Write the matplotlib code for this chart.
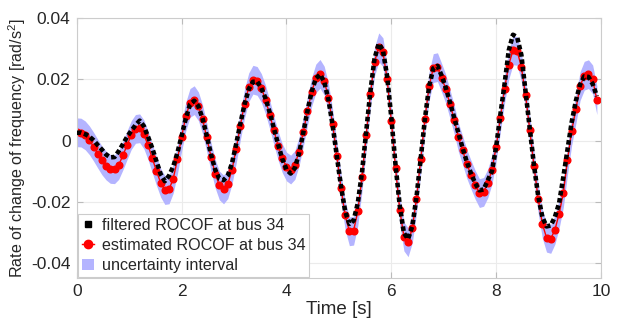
import numpy as np
import matplotlib
matplotlib.use("Agg")
import matplotlib.pyplot as plt
from matplotlib.patches import Patch
from matplotlib.lines import Line2D

plt.rcParams['font.family'] = ['Liberation Sans', 'DejaVu Sans']
plt.rcParams['mathtext.fontset'] = 'custom'
plt.rcParams['mathtext.rm'] = 'Liberation Sans'
plt.rcParams['mathtext.it'] = 'Liberation Sans'

dt = 0.08
estimated = [
    0.0027, 0.0026, 0.0017, 0.0001, -0.0020, -0.0043, -0.0065, -0.0082, -0.0093, -0.0094,
    -0.0080, -0.0049, -0.0015, 0.0018, 0.0038, 0.0040, 0.0020, -0.0016, -0.0058, -0.0100,
    -0.0138, -0.0162, -0.0160, -0.0125, -0.0062, 0.0012, 0.0079, 0.0123, 0.0132, 0.0112,
    0.0069, 0.0010, -0.0053, -0.0108, -0.0147, -0.0160, -0.0143, -0.0096, -0.0028, 0.0049,
    0.0121, 0.0174, 0.0199, 0.0195, 0.0172, 0.0134, 0.0085, 0.0033, -0.0017, -0.0058,
    -0.0085, -0.0095, -0.0080, -0.0036, 0.0027, 0.0096, 0.0159, 0.0203, 0.0218, 0.0196,
    0.0140, 0.0055, -0.0050, -0.0155, -0.0245, -0.0297, -0.0295, -0.0232, -0.0120, 0.0018,
    0.0152, 0.0258, 0.0305, 0.0289, 0.0201, 0.0065, -0.0090, -0.0226, -0.0314, -0.0333,
    -0.0287, -0.0190, -0.0062, 0.0070, 0.0177, 0.0237, 0.0240, 0.0205, 0.0168, 0.0118,
    0.0068, 0.0010, -0.0032, -0.0077, -0.0112, -0.0145, -0.0172, -0.0168, -0.0140, -0.0095,
    -0.0020, 0.0075, 0.0170, 0.0248, 0.0295, 0.0293, 0.0240, 0.0149, 0.0035, -0.0082,
    -0.0190, -0.0272, -0.0318, -0.0322, -0.0292, -0.0240, -0.0172, -0.0064, 0.0032, 0.0103,
    0.0178, 0.0212, 0.0217, 0.0200, 0.0132,
]
filtered = [
    0.0025, 0.0026, 0.0021, 0.0013, 0.0001, -0.0015, -0.0030, -0.0046, -0.0055, -0.0054,
    -0.0035, -0.0012, 0.0012, 0.0032, 0.0050, 0.0065, 0.0047, 0.0012, -0.0025, -0.0068,
    -0.0110, -0.0133, -0.0115, -0.0085, -0.0040, 0.0015, 0.0072, 0.0118, 0.0130, 0.0112,
    0.0072, 0.0015, -0.0045, -0.0095, -0.0125, -0.0130, -0.0115, -0.0075, -0.0012, 0.0055,
    0.0118, 0.0168, 0.0192, 0.0193, 0.0172, 0.0138, 0.0092, 0.0040, -0.0012, -0.0060,
    -0.0095, -0.0108, -0.0090, -0.0042, 0.0025, 0.0096, 0.0160, 0.0203, 0.0216, 0.0192,
    0.0135, 0.0050, -0.0050, -0.0150, -0.0232, -0.0273, -0.0262, -0.0205, -0.0105, 0.0028,
    0.0160, 0.0268, 0.0317, 0.0295, 0.0210, 0.0075, -0.0080, -0.0212, -0.0303, -0.0322,
    -0.0280, -0.0185, -0.0060, 0.0070, 0.0176, 0.0236, 0.0244, 0.0212, 0.0172, 0.0124,
    0.0074, 0.0024, -0.0025, -0.0070, -0.0108, -0.0140, -0.0163, -0.0160, -0.0130, -0.0100,
    -0.0020, 0.0085, 0.0185, 0.0295, 0.0346, 0.0338, 0.0280, 0.0160, 0.0040, -0.0080,
    -0.0180, -0.0250, -0.0281, -0.0278, -0.0250, -0.0205, -0.0120, -0.0030, 0.0060, 0.0130,
    0.0183, 0.0210, 0.0208, 0.0185, 0.0145,
]
unc_halfwidth = 0.0047
x_ticks = [0, 2, 4, 6, 8, 10]
y_ticks = [-0.04, -0.02, 0, 0.02, 0.04]
y_ticklabels = ['-0.04', '-0.02', '0', '0.02', '0.04']

est = np.array(estimated)
filt = np.array(filtered)
t = np.arange(len(est)) * dt

fig = plt.figure(figsize=(6.19, 3.20), dpi=100)
ax = fig.add_axes([0.124, 0.131, 0.847, 0.812])

ax.fill_between(t, est - unc_halfwidth, est + unc_halfwidth,
                color='#b4b4ff', linewidth=0, zorder=1)
ax.plot(t, est, color='red', lw=1.0, marker='o', ms=4.8, mec='red', mfc='red', zorder=2)
ax.plot(t, filt, color='black', lw=3.3, linestyle=(0, (1, 0.6)),
        dash_capstyle='butt', zorder=3)

ax.set_xlim(0, 10)
ax.set_ylim(-0.045, 0.04)
ax.set_xticks(x_ticks)
ax.set_xticklabels([str(v) for v in x_ticks])
ax.set_yticks(y_ticks)
ax.set_yticklabels(y_ticklabels)
ax.grid(True, color='#ebebeb', lw=0.8)
ax.set_axisbelow(True)
for sp in ax.spines.values():
    sp.set_color('#cccccc')
    sp.set_linewidth(0.8)
ax.tick_params(direction='in', length=4, width=0.8, color='#bbbbbb',
               labelsize=12.5, labelcolor='#262626', top=True, right=True, pad=4.5)

ax.set_xlabel('Time [s]', fontsize=13.5, color='#262626', labelpad=1)
ax.set_ylabel('Rate of change of frequency [rad/s$^2$]', fontsize=11.6,
              color='#262626', labelpad=2)

handles = [
    Line2D([], [], color='black', marker='s', ms=4, linestyle='none'),
    Line2D([], [], color='red', lw=1.0, marker='o', ms=6),
    Patch(facecolor='#b4b4ff', edgecolor='none'),
]
labels = ['filtered ROCOF at bus 34', 'estimated ROCOF at bus 34', 'uncertainty interval']
leg = ax.legend(handles, labels, loc='lower left', fontsize=11.6, frameon=True,
                fancybox=False, framealpha=1, edgecolor='#cccccc',
                handlelength=0.8, handletextpad=0.45, labelspacing=0.32,
                borderpad=0.25, borderaxespad=0.05)
leg.get_frame().set_linewidth(0.8)
for txt in leg.get_texts():
    txt.set_color('#262626')

fig.savefig('out.png', dpi=100)
